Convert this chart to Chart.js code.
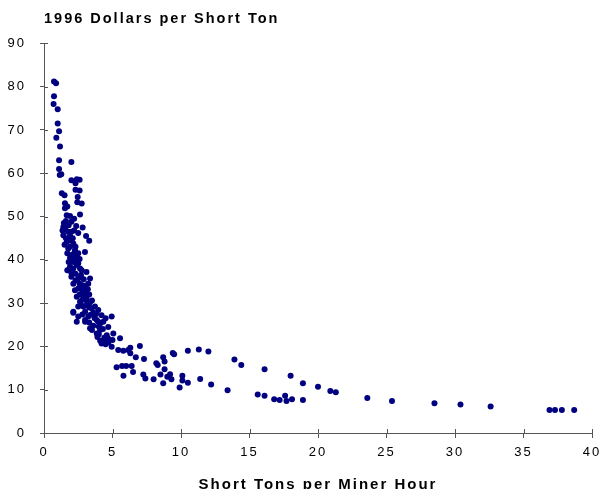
<!DOCTYPE html>
<html><head><meta charset="utf-8">
<script src="https://cdn.jsdelivr.net/npm/chart.js@4.4.1/dist/chart.umd.min.js"></script>
<style>html,body{margin:0;padding:0;background:#fff}#wrap{width:601px;height:489px}</style>
</head><body><div id="wrap"><canvas id="c" width="601" height="489"></canvas></div>
<script>
// Short tons per miner hour (x) vs 1996 dollars per short ton (y)
const productivity = [
0.73,0.88,0.73,0.7,1.0,1.0,1.1,0.9,1.17,1.1,2.0,1.1,1.26,1.15,2.0,2.4,2.6,2.3,2.3,2.6,
1.3,1.5,2.46,1.53,2.43,2.75,1.53,2.63,1.66,1.9,2.0,1.41,2.82,2.0,1.41,3.07,3.3,1.66,2.14,1.77,
2.26,2.99,2.0,2.39,2.14,2.5,1.9,2.63,1.7,1.77,2.14,2.75,3.1,2.0,2.5,3.36,2.14,2.75,3.23,2.26,
3.0,2.39,3.1,2.63,3.36,2.87,3.72,2.14,3.0,3.96,2.5,3.23,4.2,3.0,3.96,4.94,2.14,2.5,3.1,3.48,
2.39,3.0,3.85,4.33,3.36,4.09,4.69,3.85,4.58,5.06,4.33,5.55,4.2,4.94,5.42,5.79,6.15,6.3,7.0,6.3,
6.7,7.3,8.2,8.3,8.7,8.8,9.4,9.5,10.5,11.3,12.0,8.8,5.3,5.7,6.0,6.4,5.8,6.5,7.25,7.4,
8.0,8.5,9.0,9.2,9.3,8.7,10.1,10.1,10.5,9.9,11.4,12.2,13.4,13.9,14.4,16.1,15.6,16.1,16.8,17.2,
17.6,17.7,18.1,18.9,18.0,18.9,20.0,20.9,21.3,23.6,25.4,28.5,30.4,32.6,36.9,37.3,37.8,38.7,
1.6,1.8,1.55,1.75,1.9,1.6,1.85,2.1,1.5,1.9,2.3,1.7,2.2,2.5,1.9,2.2,2.6,1.8,2.4,2.0,
2.3,2.7,2.9,2.3,2.6,3.0,2.5,2.8,3.2,2.6,2.9,3.3,2.8,3.1,3.5,2.7,3.3,3.6,3.4,2.8,
3.7,3.3,3.6,4.0,3.5,4.3,4.0,4.4,3.9,4.7,4.1,4.5,4.7,5.0,3.8,4.5,4.1,1.45,1.35,1.7,
2.2,2.35,2.5,2.2
];
const price = [
81.2,80.8,77.8,76.0,74.8,71.5,69.7,68.2,66.2,63.0,62.6,61.0,59.8,59.6,58.4,58.6,58.5,57.7,56.2,56.0,
55.4,54.9,54.5,53.1,53.3,53.0,51.9,50.5,50.3,50.1,48.8,47.6,47.5,46.5,45.7,45.5,44.4,44.1,43.8,42.6,
42.2,41.8,41.1,40.7,39.5,39.2,38.4,38.0,37.6,37.6,38.0,37.6,37.2,36.1,35.7,35.7,34.5,34.2,34.5,33.0,
32.6,31.5,31.2,30.3,30.2,29.2,29.2,28.0,28.0,28.4,26.9,26.9,27.2,25.7,25.7,26.9,27.8,29.2,29.5,28.8,
25.7,26.1,26.1,25.7,24.2,23.8,24.5,23.0,22.6,23.0,21.1,21.9,20.7,19.9,19.2,19.0,19.2,19.7,20.1,18.4,
17.5,17.1,16.1,15.7,17.5,16.5,18.5,18.2,19.0,19.3,18.8,14.7,15.2,15.5,15.5,15.5,13.2,14.1,13.5,12.6,
12.4,13.5,13.0,13.6,12.4,11.5,13.2,12.1,11.6,10.5,12.5,11.2,9.9,17.0,15.7,14.7,8.9,8.6,7.8,7.6,
8.6,7.4,7.8,7.6,13.2,11.5,10.7,9.7,9.4,8.1,7.4,6.85,6.6,6.1,5.3,5.3,5.3,5.3,
49.0,48.0,47.0,46.5,45.5,45.0,44.5,45.0,43.5,43.0,43.0,41.5,41.5,41.5,40.5,40.0,40.2,39.5,38.8,37.0,
36.8,36.5,35.5,35.2,34.5,34.0,33.4,33.0,33.2,32.0,31.8,32.0,30.8,30.6,30.6,29.6,29.0,27.8,27.3,27.4,
26.5,25.5,24.8,24.6,23.8,24.0,22.8,22.0,22.2,21.8,21.3,20.5,20.9,21.5,27.5,26.5,25.3,48.5,46.8,52.3,
49.5,47.8,46.2,46.8
];
const xTickValues = [0,5,10,15,20,25,30,35,40];
const yTickValues = [0,10,20,30,40,50,60,70,80,90];

const points = productivity.map((x, i) => ({x: x, y: price[i]}));
const FONT = 'Liberation Sans, Arial, sans-serif';
const AXIS = '#555';

const spacingPlugin = {
  id: 'spacing',
  beforeDraw(chart) { chart.ctx.letterSpacing = '2px'; }
};
const crossTicks = {
  id: 'crossTicks',
  afterDraw(chart) {
    const ctx = chart.ctx, xs = chart.scales.x, ys = chart.scales.y;
    ctx.save();
    ctx.strokeStyle = AXIS; ctx.lineWidth = 1;
    ctx.beginPath();
    xTickValues.forEach(v => {
      const px = Math.round(xs.getPixelForValue(v)) + 0.5;
      ctx.moveTo(px, ys.bottom); ctx.lineTo(px, ys.bottom - 4);
    });
    yTickValues.forEach(v => {
      const py = Math.round(ys.getPixelForValue(v)) + 0.5;
      ctx.moveTo(xs.left, py); ctx.lineTo(xs.left + 4, py);
    });
    ctx.stroke();
    ctx.restore();
  }
};

new Chart(document.getElementById('c'), {
  type: 'scatter',
  data: { datasets: [{ data: points, backgroundColor: '#000080', borderWidth: 0, pointRadius: 3, pointHoverRadius: 3 }] },
  options: {
    responsive: false,
    animation: false,
    layout: { padding: { left: 0, right: 9, top: 0, bottom: 0 } },
    plugins: {
      legend: { display: false },
      tooltip: { enabled: false },
      title: {
        display: true, text: '1996 Dollars per Short Ton', align: 'start', fullSize: false,
        color: '#000', font: { family: FONT, size: 14.5, weight: 'bold' },
        padding: { top: 10, bottom: 16 }
      }
    },
    scales: {
      x: {
        type: 'linear', min: 0, max: 40,
        afterBuildTicks: s => { s.ticks = xTickValues.map(v => ({value: v})); },
        afterFit: s => { s.height = 56; s.paddingLeft = 0; s.paddingRight = 0; },
        ticks: { color: '#000', font: { family: FONT, size: 13 }, padding: 7, maxRotation: 0 },
        grid: { drawOnChartArea: false, drawTicks: true, tickLength: 5, color: AXIS },
        border: { color: AXIS, width: 1 },
        title: { display: true, text: 'Short Tons per Miner Hour', color: '#000',
                 font: { family: FONT, size: 15, weight: 'bold', lineHeight: 1 }, padding: { top: 0, bottom: -3 } }
      },
      y: {
        type: 'linear', min: 0, max: 90,
        afterBuildTicks: s => { s.ticks = yTickValues.map(v => ({value: v})); },
        afterFit: s => { s.width = 44; },
        ticks: { color: '#000', font: { family: FONT, size: 13 }, padding: 14 },
        grid: { drawOnChartArea: false, drawTicks: true, tickLength: 4, color: AXIS },
        border: { color: AXIS, width: 1 }
      }
    }
  },
  plugins: [spacingPlugin, crossTicks]
});
</script>
</body></html>
